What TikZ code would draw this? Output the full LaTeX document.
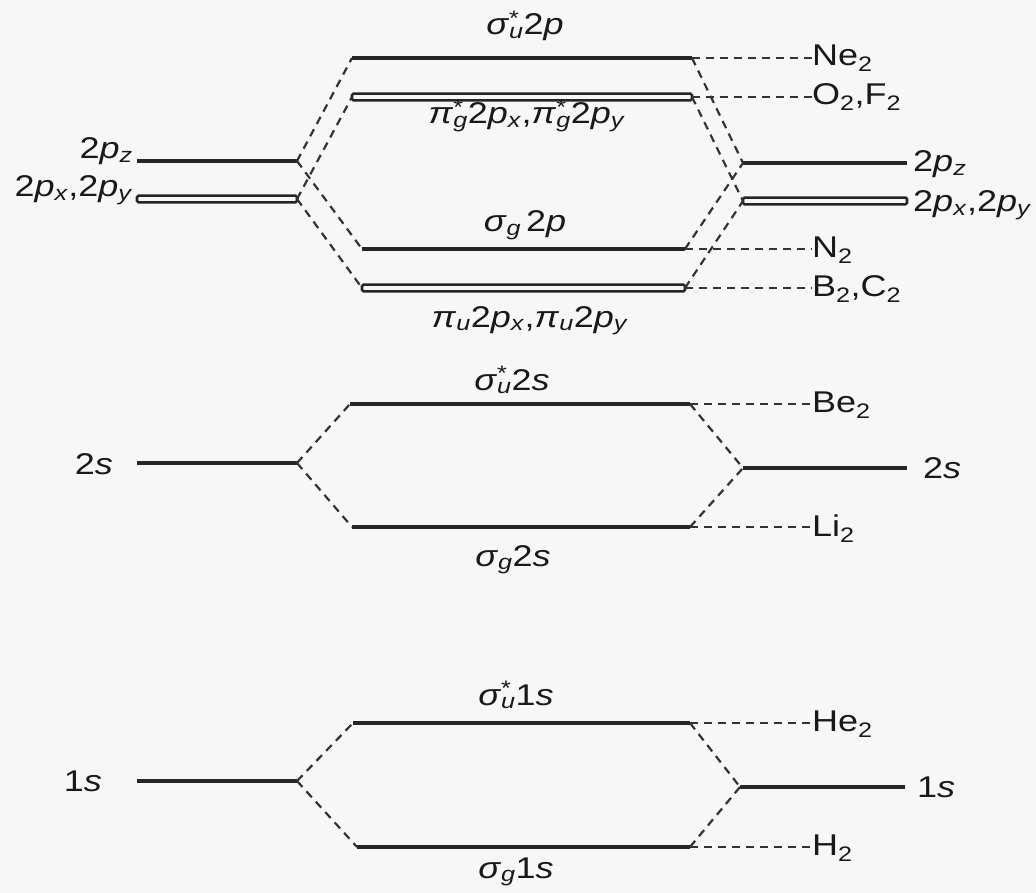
\documentclass[tikz,border=0pt]{standalone}
\usepackage{fontspec}
\setmainfont{Liberation Sans}[FakeStretch=1.2]
\newcommand\mysb[1]{\textsubscript{#1}}
\newcommand\mysbsp[2]{\rlap{\textsuperscript{#2}}\textsubscript{#1}}
\begin{document}
\begin{tikzpicture}[x=1pt,y=-1pt,
  lvl/.style={draw=black!85, line width=3.6pt},
  dlvl/.style={draw=black!85, line width=2.6pt, rounded corners=1.5pt},
  corr/.style={draw=black!80, line width=2.2pt, dash pattern=on 8pt off 6pt},
  tag/.style={font=\fontsize{30}{33}\selectfont, inner sep=0pt, text=black!90}]
\fill[black!3] (0,0) rectangle (1036,893);
\useasboundingbox (0,0) rectangle (1036,893);
% ---------- atomic levels, left ----------
\coordinate (pzL-l) at (137,161); \coordinate (pzL-r) at (297,161);
\coordinate (pxyL-l) at (137,199); \coordinate (pxyL-r) at (297,199);
\coordinate (sL2-l) at (137,463); \coordinate (sL2-r) at (297,463);
\coordinate (sL1-l) at (137,781); \coordinate (sL1-r) at (297,781);
% ---------- atomic levels, right ----------
\coordinate (pzR-l) at (743,163); \coordinate (pzR-r) at (907,163);
\coordinate (pxyR-l) at (743,201); \coordinate (pxyR-r) at (907,201);
\coordinate (sR2-l) at (743,468); \coordinate (sR2-r) at (907,468);
\coordinate (sR1-l) at (740,787); \coordinate (sR1-r) at (905,787);
% ---------- molecular levels ----------
\coordinate (m1-l) at (352,58);  \coordinate (m1-r) at (692,58);
\coordinate (m2-l) at (352,97);  \coordinate (m2-r) at (692,97);
\coordinate (m3-l) at (362,249); \coordinate (m3-r) at (685,249);
\coordinate (m4-l) at (362,288); \coordinate (m4-r) at (685,288);
\coordinate (m5-l) at (350,404); \coordinate (m5-r) at (690,404);
\coordinate (m6-l) at (352,527); \coordinate (m6-r) at (690,527);
\coordinate (m7-l) at (353,723); \coordinate (m7-r) at (690,723);
\coordinate (m8-l) at (357,847); \coordinate (m8-r) at (690,847);
% level lines
\draw[lvl] (pzL-l) -- (pzL-r);
\draw[dlvl] ([yshift=-3.4pt]pxyL-l) rectangle ([yshift=3.4pt]pxyL-r);
\draw[lvl] (sL2-l) -- (sL2-r);
\draw[lvl] (sL1-l) -- (sL1-r);
\draw[lvl] (pzR-l) -- (pzR-r);
\draw[dlvl] ([yshift=-3.4pt]pxyR-l) rectangle ([yshift=3.4pt]pxyR-r);
\draw[lvl] (sR2-l) -- (sR2-r);
\draw[lvl] (sR1-l) -- (sR1-r);
\draw[lvl] (m1-l) -- (m1-r);
\draw[dlvl] ([yshift=-3.4pt]m2-l) rectangle ([yshift=3.4pt]m2-r);
\draw[lvl] (m3-l) -- (m3-r);
\draw[dlvl] ([yshift=-3.4pt]m4-l) rectangle ([yshift=3.4pt]m4-r);
\draw[lvl] (m5-l) -- (m5-r);
\draw[lvl] (m6-l) -- (m6-r);
\draw[lvl] (m7-l) -- (m7-r);
\draw[lvl] (m8-l) -- (m8-r);
% correlation lines
\draw[corr] (pzL-r) -- (m1-l);
\draw[corr] (pzL-r) -- (m3-l);
\draw[corr] (pxyL-r) -- (m2-l);
\draw[corr] (pxyL-r) -- (m4-l);
\draw[corr] (m1-r) -- (pzR-l);
\draw[corr] (m3-r) -- (pzR-l);
\draw[corr] (m2-r) -- (pxyR-l);
\draw[corr] (m4-r) -- (pxyR-l);
\draw[corr] (sL2-r) -- (m5-l);
\draw[corr] (sL2-r) -- (m6-l);
\draw[corr] (m5-r) -- (sR2-l);
\draw[corr] (m6-r) -- (sR2-l);
\draw[corr] (sL1-r) -- (m7-l);
\draw[corr] (sL1-r) -- (m8-l);
\draw[corr] (m7-r) -- (sR1-l);
\draw[corr] (m8-r) -- (sR1-l);
% molecule labels with dashed leaders
\node[tag, anchor=west] (ne) at (812,58) {Ne\mysb{2}};
\node[tag, anchor=west] (of) at (812,97) {O\mysb{2},F\mysb{2}};
\node[tag, anchor=west] (nn) at (812,250) {N\mysb{2}};
\node[tag, anchor=west] (bc) at (812,289) {B\mysb{2},C\mysb{2}};
\node[tag, anchor=west] (be) at (812,405) {Be\mysb{2}};
\node[tag, anchor=west] (li) at (812,529) {Li\mysb{2}};
\node[tag, anchor=west] (he) at (812,724) {He\mysb{2}};
\node[tag, anchor=west] (hh) at (812,848) {H\mysb{2}};
\draw[corr] (m1-r) -- (ne.west |- m1-r);
\draw[corr] (m2-r) -- (of.west |- m2-r);
\draw[corr] (m3-r) -- (nn.west |- m3-r);
\draw[corr] (m4-r) -- (bc.west |- m4-r);
\draw[corr] (m5-r) -- (be.west |- m5-r);
\draw[corr] (m6-r) -- (li.west |- m6-r);
\draw[corr] (m7-r) -- (he.west |- m7-r);
\draw[corr] (m8-r) -- (hh.west |- m8-r);
% atomic labels
\node[tag, anchor=base east] (lpz) at (133,159) {2\textit{p}\mysb{\textit{z}}};
\node[tag, anchor=base east] (lpxy) at (133,197) {2\textit{p}\mysb{\textit{x}},2\textit{p}\mysb{\textit{y}}};
\node[tag, anchor=east] (l2s) at (113,464) {2\textit{s}};
\node[tag, anchor=east] (l1s) at (102,781) {1\textit{s}};
\node[tag, anchor=base west] (rpz) at (913,172) {2\textit{p}\mysb{\textit{z}}};
\node[tag, anchor=base west] (rpxy) at (913,212) {2\textit{p}\mysb{\textit{x}},2\textit{p}\mysb{\textit{y}}};
\node[tag, anchor=west] (r2s) at (923,468) {2\textit{s}};
\node[tag, anchor=west] (r1s) at (917,787) {1\textit{s}};
% MO labels
\node[tag, anchor=base] (t1) at (525,35) {\textit{σ}\mysbsp{\textit{u}}{*}2\textit{p}};
\node[tag, anchor=base] (t2) at (527,124) {\textit{π}\mysbsp{\textit{g}}{*}2\textit{p}\mysb{\textit{x}},\textit{π}\mysbsp{\textit{g}}{*}2\textit{p}\mysb{\textit{y}}};
\node[tag, anchor=base] (t3) at (525,232) {\textit{σ}\mysb{\textit{g}}\,2\textit{p}};
\node[tag, anchor=base] (t4) at (530,327) {\textit{π}\mysb{\textit{u}}2\textit{p}\mysb{\textit{x}},\textit{π}\mysb{\textit{u}}2\textit{p}\mysb{\textit{y}}};
\node[tag, anchor=base] (t5) at (512,390) {\textit{σ}\mysbsp{\textit{u}}{*}2\textit{s}};
\node[tag, anchor=base] (t6) at (513,566) {\textit{σ}\mysb{\textit{g}}2\textit{s}};
\node[tag, anchor=base] (t7) at (516,705) {\textit{σ}\mysbsp{\textit{u}}{*}1\textit{s}};
\node[tag, anchor=base] (t8) at (516,878) {\textit{σ}\mysb{\textit{g}}1\textit{s}};
\end{tikzpicture}
\end{document}
